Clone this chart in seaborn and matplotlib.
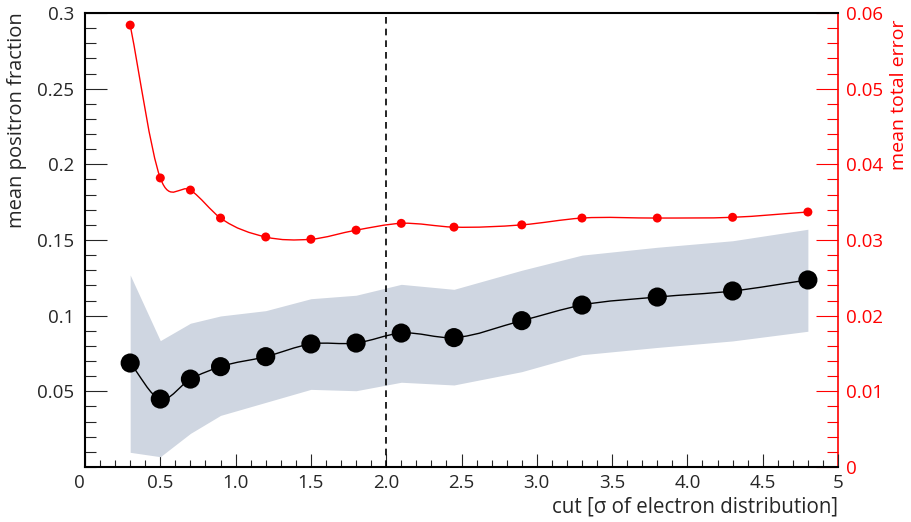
import numpy as np
import pandas as pd
import matplotlib
matplotlib.use('Agg')
import matplotlib.pyplot as plt
from matplotlib.path import Path
from matplotlib.patches import PathPatch
from matplotlib.ticker import MultipleLocator, FixedLocator, FixedFormatter
import seaborn as sns

# ---- Data ----
cut = [0.3, 0.5, 0.7, 0.9, 1.2, 1.5, 1.8, 2.1, 2.45, 2.9, 3.3, 3.8, 4.3, 4.8]
pos_frac = [0.0687, 0.0449, 0.0581, 0.0663, 0.0729, 0.0813, 0.0819, 0.0885,
            0.0855, 0.0967, 0.1070, 0.1123, 0.1163, 0.1236]
band_hi = [0.1269, 0.0835, 0.0950, 0.0998, 0.1033, 0.1112, 0.1135, 0.1207,
           0.1174, 0.1300, 0.1400, 0.1452, 0.1495, 0.1571]
band_lo = [0.0097, 0.0068, 0.0222, 0.0341, 0.0427, 0.0513, 0.0504, 0.0560,
           0.0542, 0.0630, 0.0742, 0.0790, 0.0833, 0.0897]
total_err = [0.0584, 0.0382, 0.0366, 0.0329, 0.0304, 0.0301, 0.0313, 0.0322,
             0.0317, 0.0320, 0.0329, 0.0329, 0.0330, 0.0337]
x_ticks = [0, 0.5, 1.0, 1.5, 2.0, 2.5, 3.0, 3.5, 4.0, 4.5, 5]
x_tick_labels = ['0', '0.5', '1.0', '1.5', '2.0', '2.5', '3.0', '3.5', '4.0', '4.5', '5']
y_ticks = [0.05, 0.1, 0.15, 0.2, 0.25, 0.3]
y_tick_labels = ['0.05', '0.1', '0.15', '0.2', '0.25', '0.3']
cut_line = 2.0

df = pd.DataFrame({'cut': cut, 'frac': pos_frac, 'err': total_err})

RED = '#ff0000'
BAND = '#cfd6e1'


def smooth_path(x, y):
    # cubic Bezier through the points (rendering only, like ROOT's "C" option)
    x = np.asarray(x, float)
    y = np.asarray(y, float)
    m = np.gradient(y, x)
    verts = [(x[0], y[0])]
    codes = [Path.MOVETO]
    for i in range(len(x) - 1):
        dx = x[i + 1] - x[i]
        verts += [(x[i] + dx / 3, y[i] + m[i] * dx / 3),
                  (x[i + 1] - dx / 3, y[i + 1] - m[i + 1] * dx / 3),
                  (x[i + 1], y[i + 1])]
        codes += [Path.CURVE4] * 3
    return Path(verts, codes)


sns.set_style('ticks')
plt.rcParams['font.family'] = ['Open Sans', 'DejaVu Sans']

fig = plt.figure(figsize=(9.11, 5.22), dpi=100)
ax = fig.add_axes([85 / 911, 55 / 522, 753 / 911, 454 / 522])
ax2 = ax.twinx()

# ---- left axis: positron fraction ----
ax.fill_between(cut, band_lo, band_hi, color=BAND, lw=0, zorder=1)
ax.add_patch(PathPatch(smooth_path(cut, pos_frac), fill=False, color='black', lw=1.0, zorder=2))
sns.scatterplot(data=df, x='cut', y='frac', ax=ax, color='black', s=190,
                edgecolor='none', zorder=3)
ax.axvline(cut_line, color='black', lw=1.2, ls=(0, (4, 3)), zorder=2)

# ---- right axis: total error ----
ax2.add_patch(PathPatch(smooth_path(cut, total_err), fill=False, color=RED, lw=1.0, zorder=2))
sns.scatterplot(data=df, x='cut', y='err', ax=ax2, color=RED, s=42,
                edgecolor='none', zorder=3)

ax.set_xlim(0, 5)
ax.set_ylim(0, 0.3)
ax2.set_ylim(0, 0.06)

ax.xaxis.set_major_locator(FixedLocator(x_ticks))
ax.xaxis.set_major_formatter(FixedFormatter(x_tick_labels))
ax.xaxis.set_minor_locator(MultipleLocator(0.1))
ax.yaxis.set_major_locator(FixedLocator(y_ticks))
ax.yaxis.set_major_formatter(FixedFormatter(y_tick_labels))
ax.yaxis.set_minor_locator(MultipleLocator(0.01))
ax2.yaxis.set_major_locator(MultipleLocator(0.01))
ax2.yaxis.set_major_formatter(plt.FuncFormatter(lambda v, p: '0' if abs(v) < 1e-9 else f'{v:.2f}'))
ax2.yaxis.set_minor_locator(MultipleLocator(0.002))

ax.tick_params(axis='x', which='major', direction='in', length=9.5, width=0.8,
               labelsize=13.5, pad=5, top=False)
ax.tick_params(axis='x', which='minor', direction='in', length=5, width=0.8, top=False)
ax.tick_params(axis='y', which='major', direction='in', length=16, width=0.8,
               labelsize=13.5, pad=8, right=False)
ax.tick_params(axis='y', which='minor', direction='in', length=8, width=0.8, right=False)
ax2.tick_params(axis='y', which='major', direction='in', length=16, width=0.8,
                labelsize=13.5, pad=6, colors=RED)
ax2.tick_params(axis='y', which='minor', direction='in', length=8, width=0.8, colors=RED)

for s in ['left', 'bottom', 'top']:
    ax.spines[s].set_linewidth(1.5)
    ax.spines[s].set_color('black')
ax.spines['right'].set_visible(False)
ax2.spines['left'].set_visible(False)
ax2.spines['bottom'].set_visible(False)
ax2.spines['top'].set_visible(False)
ax2.spines['right'].set_visible(True)
ax2.spines['right'].set_color(RED)
ax2.spines['right'].set_linewidth(1.2)

ax.set_xlabel('cut [σ of electron distribution]', fontsize=14.8, loc='right')
ax.xaxis.set_label_coords(1.0, -0.066)
ax.set_ylabel('mean positron fraction', fontsize=14.5, loc='top')
ax.yaxis.set_label_coords(-0.077, 1.002)
ax2.set_ylabel('mean total error', fontsize=14, loc='top', color=RED)
ax2.yaxis.set_label_coords(1.069, 0.985)

# the "0" of the x axis sits a little left of the corner
fig.canvas.draw()
ax.get_xticklabels()[0].set_horizontalalignment('right')

ax.set_zorder(ax2.get_zorder() + 1)
ax.patch.set_visible(False)

plt.savefig('out.png', dpi=100)
plt.close()
